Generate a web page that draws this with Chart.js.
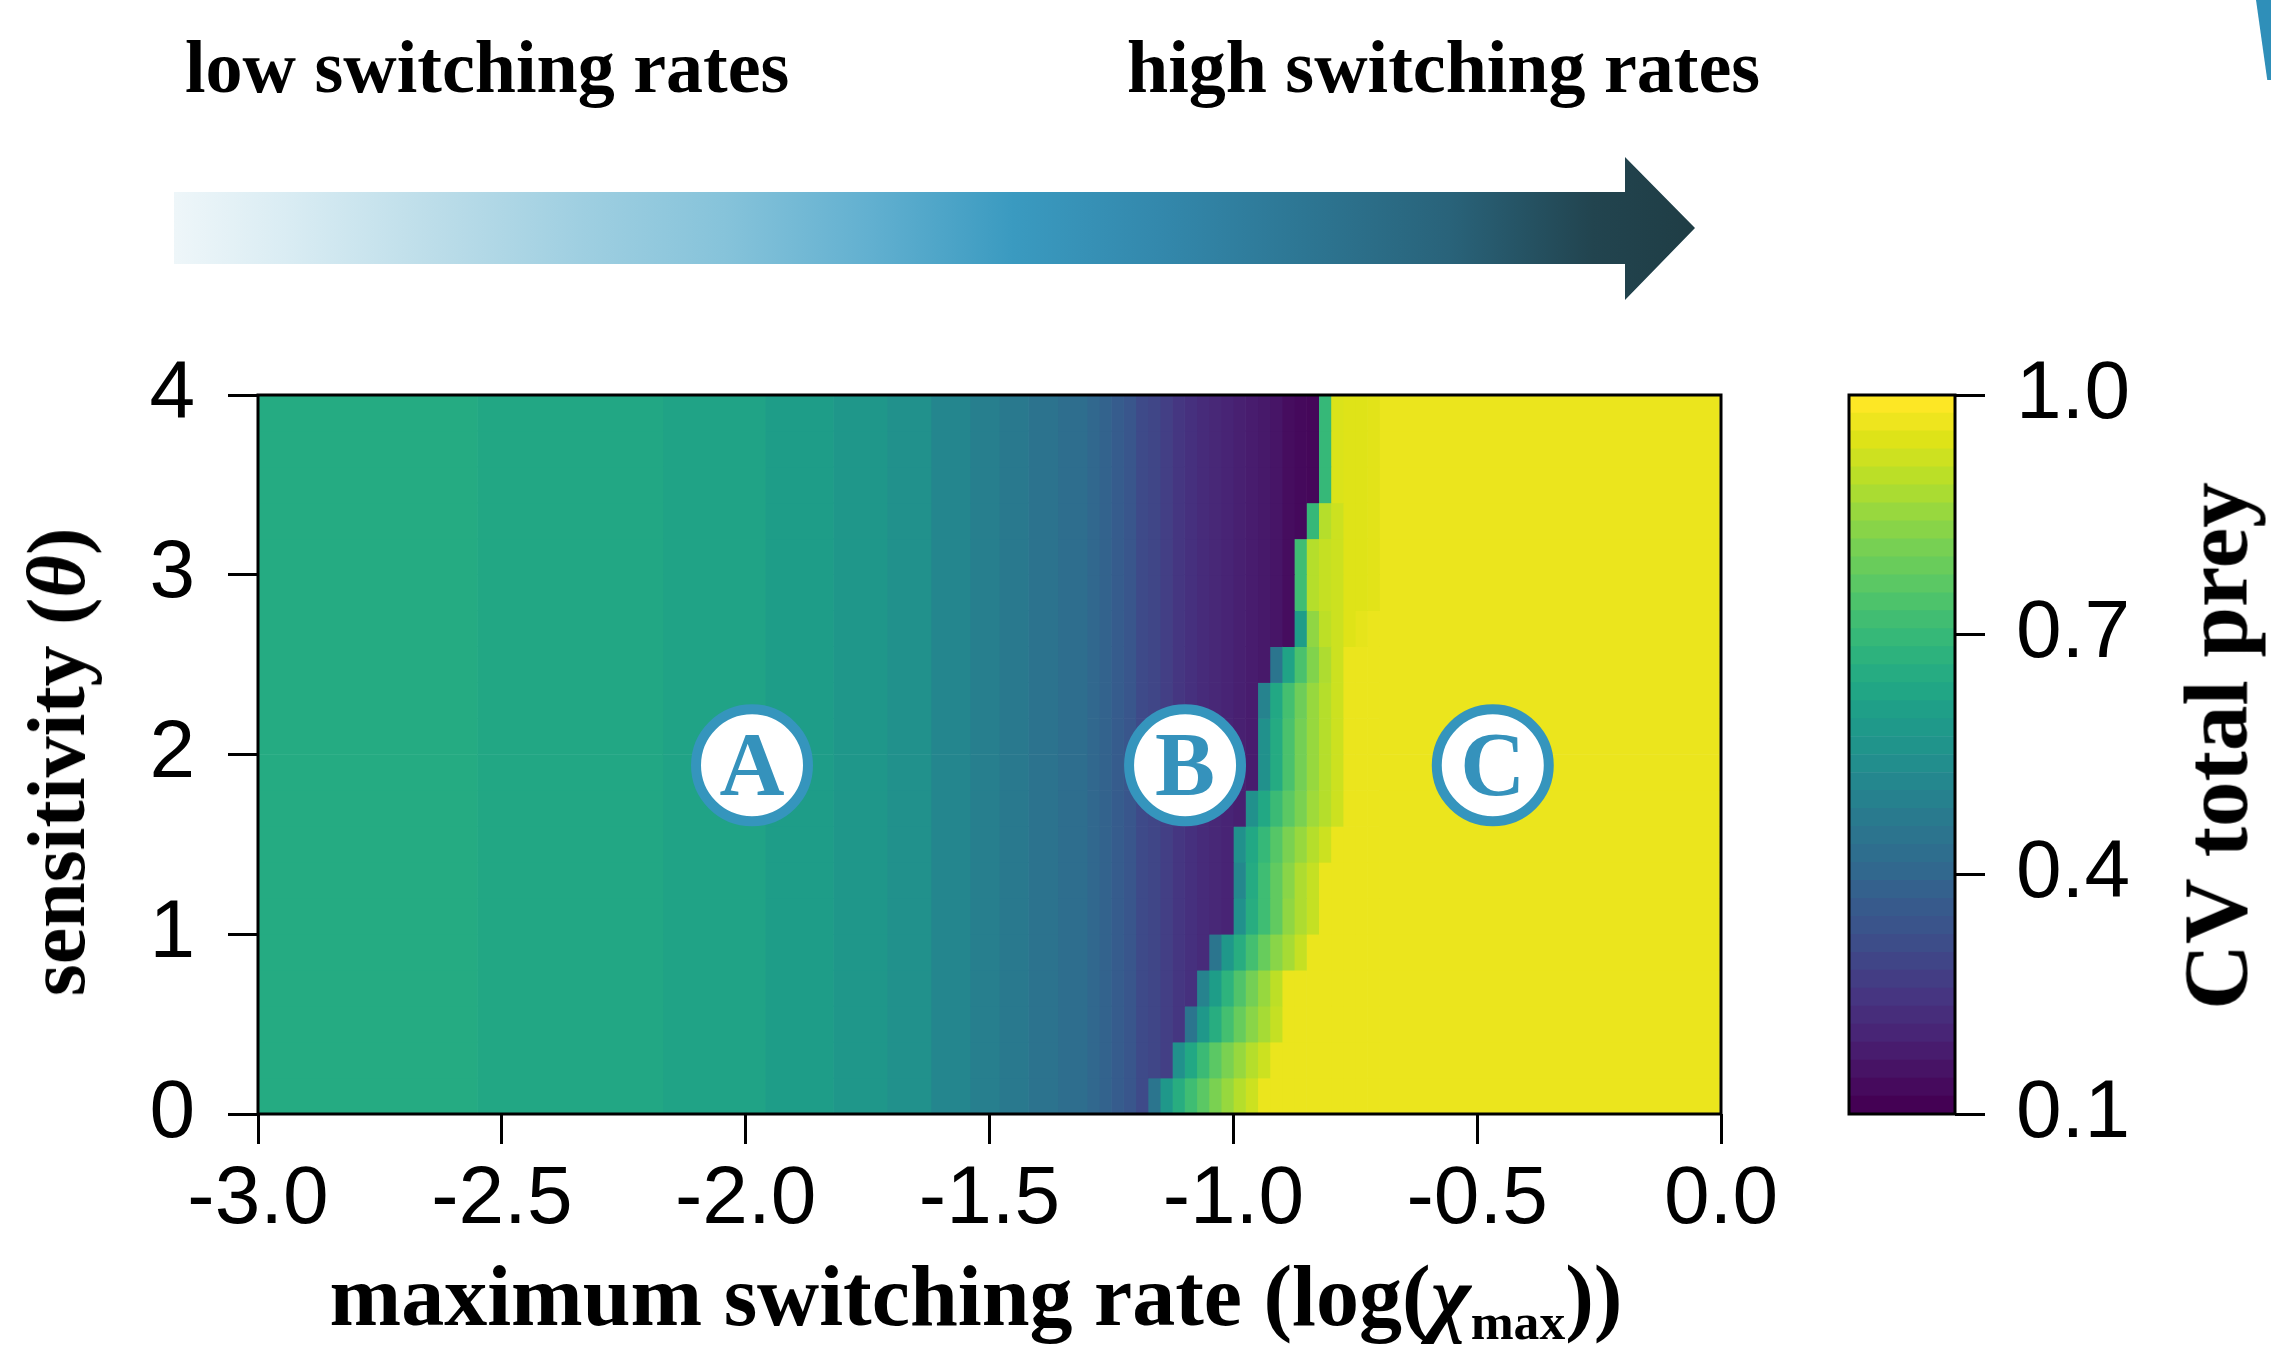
<!DOCTYPE html>
<html>
<head>
<meta charset="utf-8">
<title>CV total prey</title>
<script src="https://cdn.jsdelivr.net/npm/chart.js@4.4.1/dist/chart.umd.min.js"></script>
<style>
  html, body { margin:0; padding:0; background:#ffffff; }
  body { width:2271px; height:1348px; position:relative; overflow:hidden; }
  canvas { position:absolute; top:0; }
  #mainChart { left:0; }
  #cbChart { left:1800px; }
  .lbl { position:absolute; font-family:"Liberation Serif","Times New Roman",serif; font-weight:bold; color:#000; white-space:nowrap; line-height:1; }
  .sub { font-size:0.6em; position:relative; top:0.28em; }
  #arrow { position:absolute; left:174px; top:157px; width:1521px; height:143px;
    clip-path: polygon(0px 35px, 1451px 35px, 1451px 0px, 1521px 71px, 1451px 143px, 1451px 107px, 0px 107px);
    background: linear-gradient(to right, #eef6f9 0%, #d9ecf3 7.6%, #bcdde9 17.1%, #9fcfe1 26.7%, #86c3da 36.2%, #62b0d0 45.7%, #3a9ac0 55.2%, #3388ac 64.8%, #2d7693 74.3%, #29637a 83.8%, #22444f 93.3%, #1f3d45 100%); }
  #wedge { position:absolute; left:2256px; top:0; width:15px; height:80px; background:#2f8fb9;
    clip-path: polygon(0 0, 100% 0, 100% 100%, 75% 100%); }
</style>
</head>
<body>
<canvas id="mainChart" width="2271" height="1348"></canvas>
<canvas id="cbChart" width="471" height="1348"></canvas>
<div id="arrow"></div>
<div id="wedge"></div>
<div class="lbl" style="font-size:74px;left:185px;top:30px">low switching rates</div>
<div class="lbl" style="font-size:74px;left:1127px;top:30px">high switching rates</div>
<div class="lbl" style="font-size:86px;left:976px;top:1253px;transform:translateX(-50%)">maximum switching rate (log(<i>χ</i><span class="sub">max</span>))</div>
<div class="lbl" style="font-size:82px;left:57px;top:762px;transform:translate(-50%,-50%) rotate(-90deg)">sensitivity (<i>θ</i>)</div>
<div class="lbl" style="font-size:91px;left:2216px;top:746px;transform:translate(-50%,-50%) rotate(-90deg)">CV total prey</div>
<script>
// ---------------- data ----------------
// sensitivity rows (centres of 0.2-wide bands)
const thetaRows = [0.1,0.3,0.5,0.7,0.9,1.1,1.3,1.5,1.7,1.9,2.1,2.3,2.5,2.7,2.9,3.1,3.3,3.5,3.7,3.9];

// left region: vertical contour bands (x edges) and their CV level
const leftEdges = [-3.0,-2.55,-2.17,-1.96,-1.82,-1.71,-1.62,-1.54,-1.48,-1.42,-1.36,-1.30];
const leftCV    = [0.651,0.636,0.621,0.600,0.574,0.550,0.511,0.486,0.465,0.441,0.422];

// transition region columns
const fineEdges = [-1.300,-1.275,-1.250,-1.225,-1.200,-1.175,-1.150,-1.125,-1.100,-1.075,-1.050,-1.025,
                   -1.000,-0.975,-0.950,-0.925,-0.900,-0.875,-0.850,-0.825,-0.800,-0.775,-0.750,-0.725,-0.700];

// CV in the transition region, one array per sensitivity row (bottom to top)
const boundaryRows = [
  [.40,.385,.36,.34,.30,.45,.58,.66,.72,.77,.82,.86,.90,.93,.973,.973,.973,.973,.973,.973,.973,.973,.973,.973],
  [.40,.385,.36,.34,.30,.285,.265,.55,.64,.71,.77,.82,.86,.90,.93,.973,.973,.973,.973,.973,.973,.973,.973,.973],
  [.40,.385,.36,.34,.30,.285,.265,.24,.45,.58,.66,.73,.79,.84,.88,.92,.973,.973,.973,.973,.973,.973,.973,.973],
  [.40,.385,.36,.34,.30,.285,.265,.24,.225,.50,.60,.68,.75,.81,.86,.91,.973,.973,.973,.973,.973,.973,.973,.973],
  [.40,.385,.36,.34,.30,.285,.265,.24,.225,.21,.45,.58,.66,.73,.79,.84,.88,.92,.973,.973,.973,.973,.973,.973],
  [.40,.385,.36,.34,.30,.285,.265,.24,.225,.21,.20,.19,.55,.66,.72,.78,.85,.89,.92,.973,.973,.973,.973,.973],
  [.40,.385,.36,.34,.30,.285,.265,.24,.225,.21,.20,.19,.52,.65,.72,.78,.84,.89,.92,.973,.973,.973,.973,.973],
  [.40,.385,.36,.34,.30,.285,.265,.24,.225,.21,.20,.19,.55,.64,.70,.76,.82,.86,.90,.93,.973,.973,.973,.973],
  [.40,.385,.36,.34,.30,.285,.265,.24,.225,.21,.20,.19,.18,.55,.64,.71,.77,.82,.87,.90,.93,.973,.973,.973],
  [.40,.385,.36,.34,.30,.285,.265,.24,.225,.21,.20,.19,.18,.17,.55,.65,.74,.81,.86,.90,.93,.973,.973,.973],
  [.40,.385,.36,.34,.30,.285,.265,.24,.225,.21,.20,.19,.18,.17,.55,.65,.74,.81,.86,.90,.93,.973,.973,.973],
  [.40,.385,.36,.34,.30,.285,.265,.24,.225,.21,.20,.19,.18,.17,.50,.64,.73,.80,.86,.90,.93,.973,.973,.973],
  [.40,.385,.36,.34,.30,.285,.265,.24,.225,.21,.20,.19,.18,.17,.16,.45,.62,.74,.83,.89,.93,.973,.973,.973],
  [.40,.385,.36,.34,.30,.285,.265,.24,.225,.21,.20,.19,.18,.17,.16,.15,.13,.60,.85,.91,.93,.955,.965,.973],
  [.40,.385,.36,.34,.30,.285,.265,.24,.225,.21,.20,.19,.18,.17,.16,.15,.13,.72,.90,.92,.93,.955,.955,.96],
  [.40,.385,.36,.34,.30,.285,.265,.24,.225,.21,.20,.19,.18,.17,.16,.15,.13,.72,.90,.92,.93,.955,.955,.96],
  [.40,.385,.36,.34,.30,.285,.265,.24,.225,.21,.20,.19,.18,.17,.16,.15,.13,.12,.70,.90,.93,.955,.955,.96],
  [.40,.385,.36,.34,.30,.285,.265,.24,.225,.21,.20,.19,.18,.17,.16,.15,.13,.12,.115,.70,.95,.955,.955,.96],
  [.40,.385,.36,.34,.30,.285,.265,.24,.225,.21,.20,.19,.18,.17,.16,.15,.13,.12,.115,.70,.95,.955,.955,.96],
  [.40,.385,.36,.34,.30,.285,.265,.24,.225,.21,.20,.19,.18,.17,.16,.15,.13,.12,.115,.70,.95,.955,.955,.96]
];

// right region (high switching rates)
const rightEdges = [-0.70, 0.0];
const rightCV = 0.973;

// region markers
const markerText = ['A','B','C'];
const markerX = [-1.987,-1.099,-0.468];
const markerY = [1.94,1.94,1.94];

// colour key
const cbBreaks = [0.1000,0.1225,0.1450,0.1675,0.1900,0.2125,0.2350,0.2575,0.2800,0.3025,0.3250,0.3475,0.3700,0.3925,
  0.4150,0.4375,0.4600,0.4825,0.5050,0.5275,0.5500,0.5725,0.5950,0.6175,0.6400,0.6625,0.6850,0.7075,0.7300,0.7525,
  0.7750,0.7975,0.8200,0.8425,0.8650,0.8875,0.9100,0.9325,0.9550,0.9775,1.0000];
const cbTicks = [0.1,0.4,0.7,1.0];

// ---------------- colour map ----------------
const VIR = ['#440154','#471365','#482475','#463480','#414487','#3b528b','#355f8d','#2f6c8e','#2a788e','#25848e',
             '#21918c','#1e9c89','#22a884','#2fb47c','#44bf70','#5ec962','#7ad151','#9bd93c','#bddf26','#dfe318','#fde725'];
function hex2rgb(h){ return [parseInt(h.slice(1,3),16),parseInt(h.slice(3,5),16),parseInt(h.slice(5,7),16)]; }
const VIRRGB = VIR.map(hex2rgb);
function viridis(t){
  t = Math.max(0, Math.min(1, t));
  const p = t * (VIR.length - 1);
  const i = Math.min(VIR.length - 2, Math.floor(p));
  const f = p - i;
  const a = VIRRGB[i], b = VIRRGB[i+1];
  return 'rgb(' + [0,1,2].map(k => Math.round(a[k] + (b[k]-a[k])*f)).join(',') + ')';
}
const CV_MIN = 0.1, CV_MAX = 1.0;
function cvColor(v){ return viridis((v - CV_MIN) / (CV_MAX - CV_MIN)); }

// ---------------- build datasets (one per x column) ----------------
const columns = [];
for (let i = 0; i < leftCV.length; i++) {
  columns.push({x0:leftEdges[i], x1:leftEdges[i+1], vals:thetaRows.map(() => leftCV[i])});
}
for (let j = 0; j < fineEdges.length - 1; j++) {
  columns.push({x0:fineEdges[j], x1:fineEdges[j+1], vals:boundaryRows.map(r => r[j])});
}
columns.push({x0:rightEdges[0], x1:rightEdges[1], vals:thetaRows.map(() => rightCV)});

const datasets = columns.map(c => ({
  data: thetaRows.map(t => ({y:t, x:[c.x0, c.x1]})),
  backgroundColor: c.vals.map(cvColor),
  borderWidth: 0
}));

const tickFont = {family:'"Liberation Sans", Arial, Helvetica, sans-serif', size:82};
const tickGrid = {drawOnChartArea:false, drawTicks:true, tickLength:30, lineWidth:3, color:'#000', offset:false};

const boxPlugin = {
  id:'box',
  afterDatasetsDraw(chart){
    const a = chart.chartArea, ctx = chart.ctx;
    ctx.save();
    ctx.strokeStyle = '#000'; ctx.lineWidth = 3;
    ctx.strokeRect(a.left, a.top, a.right - a.left, a.bottom - a.top);
    ctx.restore();
  }
};

const markerPlugin = {
  id:'markers',
  afterDraw(chart){
    const ctx = chart.ctx, xs = chart.scales.x, ys = chart.scales.y;
    ctx.save();
    for (let i = 0; i < markerText.length; i++) {
      const px = xs.getPixelForValue(markerX[i]);
      const py = ys.getPixelForValue(markerY[i]);
      ctx.beginPath();
      ctx.arc(px, py, 56, 0, Math.PI*2);
      ctx.fillStyle = '#ffffff';
      ctx.fill();
      ctx.lineWidth = 10;
      ctx.strokeStyle = '#3595bd';
      ctx.stroke();
      ctx.fillStyle = '#3592bc';
      ctx.font = 'bold 90px "Liberation Serif", "Times New Roman", serif';
      ctx.textAlign = 'center';
      ctx.textBaseline = 'alphabetic';
      ctx.fillText(markerText[i], px, py + 30);
    }
    ctx.restore();
  }
};

new Chart(document.getElementById('mainChart'), {
  type:'bar',
  data:{ datasets },
  plugins:[boxPlugin, markerPlugin],
  options:{
    responsive:false, animation:false, events:[], devicePixelRatio:1,
    indexAxis:'y',
    layout:{ padding:{left:0, top:395, right:550, bottom:0} },
    plugins:{ legend:{display:false}, tooltip:{enabled:false}, title:{display:false} },
    datasets:{ bar:{ grouped:false, barPercentage:1, categoryPercentage:1, borderWidth:0 } },
    scales:{
      x:{ type:'linear', position:'bottom', min:-3, max:0, offset:false,
          afterFit(s){ s.height = 234; },
          ticks:{ stepSize:0.5, autoSkip:false, maxRotation:0, padding:7, color:'#000', font:tickFont,
                  callback:(v) => Number(v).toFixed(1) },
          grid:tickGrid, border:{display:false} },
      y:{ type:'linear', position:'left', min:0, max:4, offset:false,
          afterFit(s){ s.width = 258; },
          ticks:{ stepSize:1, padding:33, color:'#000', font:tickFont,
                  callback:(v) => String(Math.round(v)) },
          grid:tickGrid, border:{display:false} }
    }
  }
});

// ---------------- colour key ----------------
const cbDatasets = [];
for (let k = 0; k < cbBreaks.length - 1; k++) {
  cbDatasets.push({
    data:[[cbBreaks[k], cbBreaks[k+1]]],
    backgroundColor: viridis(k / (cbBreaks.length - 2)),
    borderWidth:0
  });
}

new Chart(document.getElementById('cbChart'), {
  type:'bar',
  data:{ labels:['CV total prey'], datasets:cbDatasets },
  plugins:[boxPlugin],
  options:{
    responsive:false, animation:false, events:[], devicePixelRatio:1,
    layout:{ padding:{left:49, top:395, right:0, bottom:234} },
    plugins:{ legend:{display:false}, tooltip:{enabled:false} },
    datasets:{ bar:{ grouped:false, barPercentage:1, categoryPercentage:1, borderWidth:0 } },
    scales:{
      x:{ display:false },
      y:{ type:'linear', position:'right', min:0.1, max:1.0,
          afterFit(s){ s.width = 471 - 155; },
          afterBuildTicks(s){ s.ticks = cbTicks.map(v => ({value:v})); },
          ticks:{ padding:31, color:'#000', font:tickFont, callback:(v) => Number(v).toFixed(1) },
          grid:tickGrid, border:{display:false} }
    }
  }
});
</script>
</body>
</html>
